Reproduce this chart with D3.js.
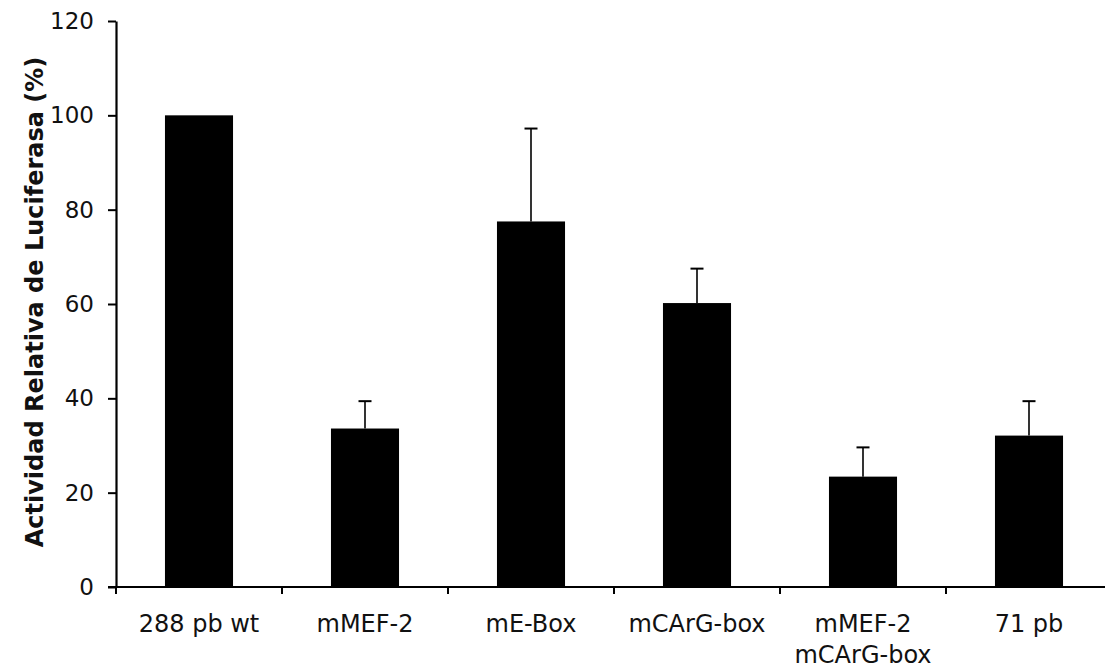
<!DOCTYPE html>
<html>
<head>
<meta charset="utf-8">
<script src="https://d3js.org/d3.v7.min.js"></script>
<style>
  body { margin: 0; background: #fff; }
  text { font-family: 'DejaVu Sans', Verdana, sans-serif; }
</style>
</head>
<body>
<div id="chart"></div>
<script>
const categories = ['288 pb wt', 'mMEF-2', 'mE-Box', 'mCArG-box', 'mMEF-2\nmCArG-box', '71 pb']
const values = [100, 33.6, 77.5, 60.2, 23.4, 32.1]
const errors = [0, 5.8, 19.7, 7.3, 6.2, 7.3]
const yTicks = [0, 20, 40, 60, 80, 100, 120]

const width = 1105
const height = 671
const margin = { top: 21, left: 116, right: -7, bottom: 84 }

const svg = d3.select('#chart')
  .append('svg')
  .attr('width', width)
  .attr('height', height)

const x = d3.scaleBand()
  .domain(categories)
  .range([margin.left, width - margin.right])
  .paddingInner(0.59)
  .paddingOuter(0.295)

const y = d3.scaleLinear()
  .domain([0, 120])
  .range([height - margin.bottom, margin.top])

const step = x.step()
const bandStart = d => x(d) - x.paddingInner() * step / 2

// bars
svg.selectAll('rect.bar')
  .data(categories)
  .enter()
  .append('rect')
  .attr('class', 'bar')
  .attr('x', d => x(d))
  .attr('width', x.bandwidth())
  .attr('y', (d, i) => y(values[i]))
  .attr('height', (d, i) => y(0) - y(values[i]))
  .attr('fill', '#000')

// error bars (upper only)
const err = svg.selectAll('g.err')
  .data(categories.filter((d, i) => errors[i] > 0))
  .enter()
  .append('g')
  .attr('class', 'err')

err.append('line')
  .attr('x1', d => x(d) + x.bandwidth() / 2)
  .attr('x2', d => x(d) + x.bandwidth() / 2)
  .attr('y1', d => y(values[categories.indexOf(d)]))
  .attr('y2', d => { const i = categories.indexOf(d); return y(values[i] + errors[i]) })
  .attr('stroke', '#000')
  .attr('stroke-width', 1.6)

err.append('line')
  .attr('x1', d => x(d) + x.bandwidth() / 2 - 6.5)
  .attr('x2', d => x(d) + x.bandwidth() / 2 + 6.5)
  .attr('y1', d => { const i = categories.indexOf(d); return y(values[i] + errors[i]) })
  .attr('y2', d => { const i = categories.indexOf(d); return y(values[i] + errors[i]) })
  .attr('stroke', '#000')
  .attr('stroke-width', 2)

// y axis
const yAxis = svg.append('g')
  .attr('transform', `translate(${margin.left},0)`)
  .call(d3.axisLeft(y).tickValues(yTicks).tickSize(8).tickSizeOuter(0).tickPadding(14))
yAxis.select('.domain').attr('stroke-width', 2.2)
yAxis.selectAll('.tick line').attr('stroke-width', 2)
yAxis.selectAll('.tick text')
  .attr('font-size', 23)
  .attr('fill', '#111')
  .attr('font-family', "'DejaVu Sans', Verdana, sans-serif")

// x axis line with ticks at band boundaries
const xAxis = svg.append('g')
xAxis.append('line')
  .attr('x1', margin.left - 8)
  .attr('x2', width)
  .attr('y1', y(0))
  .attr('y2', y(0))
  .attr('stroke', '#000')
  .attr('stroke-width', 2.2)

xAxis.selectAll('line.xtick')
  .data(categories)
  .enter()
  .append('line')
  .attr('class', 'xtick')
  .attr('x1', d => bandStart(d) + step)
  .attr('x2', d => bandStart(d) + step)
  .attr('y1', y(0))
  .attr('y2', y(0) + 7)
  .attr('stroke', '#000')
  .attr('stroke-width', 2)

xAxis.append('line')
  .attr('x1', margin.left)
  .attr('x2', margin.left)
  .attr('y1', y(0))
  .attr('y2', y(0) + 7)
  .attr('stroke', '#000')
  .attr('stroke-width', 2)

const labels = xAxis.selectAll('text.xlabel')
  .data(categories)
  .enter()
  .append('text')
  .attr('class', 'xlabel')
  .attr('text-anchor', 'middle')
  .attr('font-size', 24)
  .attr('fill', '#111')
  .attr('x', d => x(d) + x.bandwidth() / 2)
  .attr('y', 632)

labels.selectAll('tspan')
  .data(d => d.split('\n').map(t => ({ t, c: d })))
  .enter()
  .append('tspan')
  .attr('x', d => x(d.c) + x.bandwidth() / 2)
  .attr('dy', (d, i) => i === 0 ? 0 : 31)
  .text(d => d.t)

// y axis title
svg.append('text')
  .attr('transform', `translate(43,302) rotate(-90)`)
  .attr('text-anchor', 'middle')
  .attr('font-size', 24)
  .attr('font-weight', 'bold')
  .attr('fill', '#111')
  .text('Actividad Relativa de Luciferasa (%)')
</script>
</body>
</html>
